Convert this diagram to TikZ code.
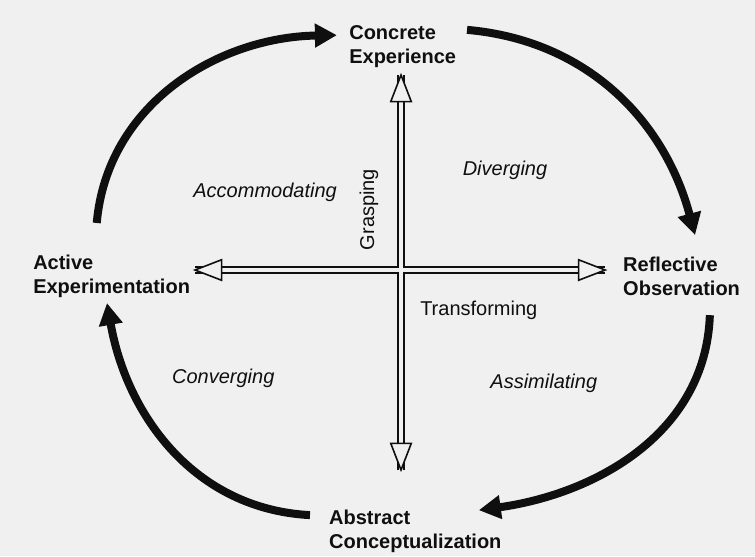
\documentclass[tikz,border=0pt]{standalone}
\usepackage{fontspec}
\setmainfont{Liberation Sans}
\usetikzlibrary{arrows.meta}
\definecolor{paper}{RGB}{240,240,240}
\definecolor{ink}{RGB}{15,15,15}
\def\axishead(#1:#2){\draw[line width=1.2pt, color=ink, fill=paper, line join=miter, shift={(#1)}, rotate=#2] (0,0) -- (-0.70,0.27) -- (-0.70,-0.27) -- cycle;}

\begin{document}
\begin{tikzpicture}[
		stage/.style={font=\fontsize{15}{18}\selectfont\bfseries, align=left, inner sep=0pt, text=ink, anchor=north west},
		quadrant/.style={font=\fontsize{15}{18}\selectfont\itshape, inner sep=0pt, text=ink, anchor=base west},
		axislabel/.style={font=\fontsize{15}{18}\selectfont, inner sep=0pt, text=ink, anchor=base west},
		axisline/.style={draw=ink, line width=1.2pt, double=paper, double distance=3.4pt},
		cyclearrow/.style={draw=ink, line width=6pt, -{Triangle[length=0.58cm, width=0.6cm]}},
	]
			%%%%% START %%%%%
			
			\fill[paper] (-10.57, -7.538) rectangle (9.33, 7.117);
			\useasboundingbox (-10.57, -7.538) rectangle (9.33, 7.117);
			
			\node[stage] (ce) at (-1.37, 6.46) {Concrete\\Experience};
			\node[stage] (ro) at (5.85, 0.34) {Reflective\\Observation};
			\node[stage] (ac) at (-1.90, -6.33) {Abstract\\Conceptualization};
			\node[stage] (ae) at (-9.70, 0.40) {Active\\Experimentation};
			
			% the two axes
			\coordinate (up) at (0, 5.14);
			\coordinate (down) at (0, -5.27);
			\coordinate (left) at (-5.43, 0);
			\coordinate (right) at (5.38, 0);
			
			\draw[axisline] (up) -- (down) (left) -- (right);
			\axishead(up:90)
			\axishead(down:-90)
			\axishead(left:180)
			\axishead(right:0)
			
			\node[axislabel, rotate=90] (grasp) at (-0.71, 0.52) {Grasping};
			\node[axislabel] (trans) at (0.50, -1.19) {Transforming};
			
			\node[quadrant] (div) at (1.62, 2.50) {Diverging};
			\node[quadrant] (acc) at (-5.48, 1.90) {Accommodating};
			\node[quadrant] (conv) at (-6.04, -2.98) {Converging};
			\node[quadrant] (assim) at (2.35, -3.11) {Assimilating};
			
			% the learning cycle
			\coordinate (ae-out) at (-8.02, 1.24);
			\coordinate (ce-in) at (-1.69, 6.19);
			\coordinate (ce-out) at (1.74, 6.33);
			\coordinate (ro-in) at (7.75, 0.92);
			\coordinate (ro-out) at (8.14, -1.19);
			\coordinate (ac-in) at (2.05, -6.33);
			\coordinate (ac-out) at (-2.40, -6.46);
			\coordinate (ae-in) at (-7.75, -0.87);
			
			\draw[cyclearrow] (ae-out) to[out=85, in=181] (ce-in);
			\draw[cyclearrow] (ce-out) to[out=-5, in=105] (ro-in);
			\draw[cyclearrow] (ro-out) to[out=-92, in=8] (ac-in);
			\draw[cyclearrow] (ac-out) to[out=177, in=-80] (ae-in);
			
			%%%%% END %%%%%
\end{tikzpicture}
\end{document}
